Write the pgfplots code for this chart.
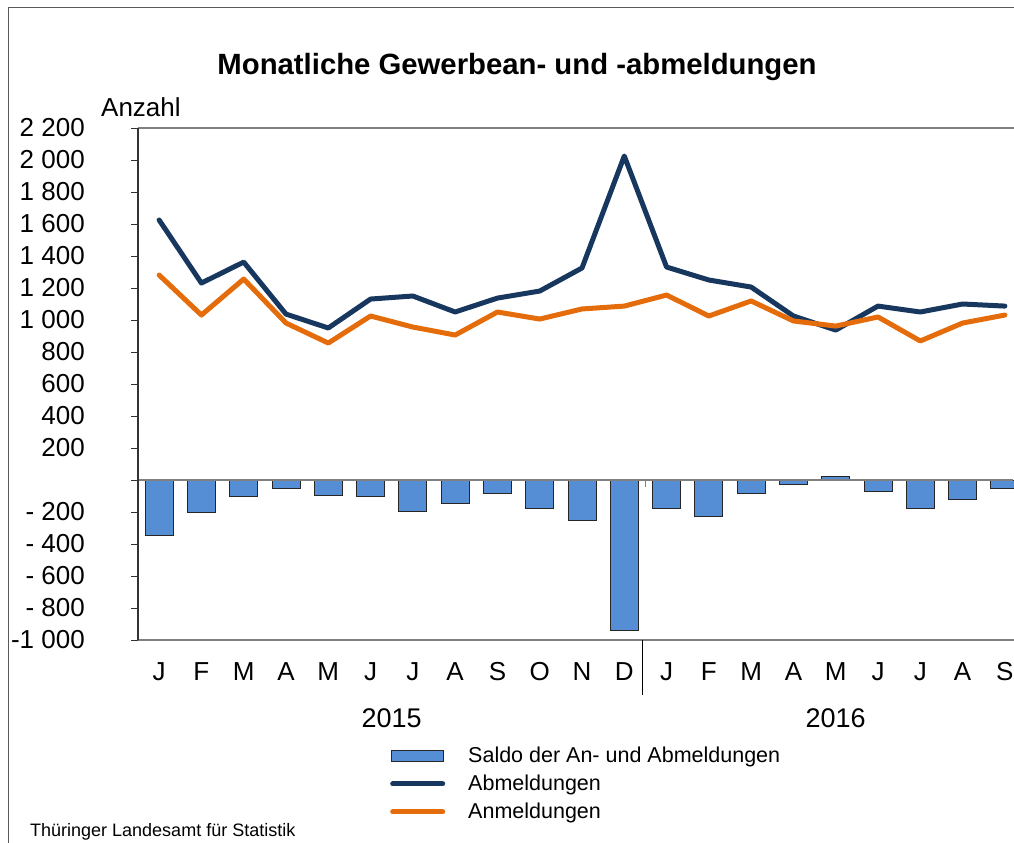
\documentclass[border=0pt]{standalone}
\usepackage{pgfplots}
\pgfplotsset{compat=1.18}
\usepackage{fontspec}
\setmainfont{Liberation Sans}
\definecolor{barblue}{RGB}{85,142,213}
\definecolor{navy}{RGB}{23,55,94}
\definecolor{orng}{RGB}{228,108,10}
\begin{document}
\begin{tikzpicture}
\useasboundingbox (0,0) rectangle (1014bp,-843bp);
\draw[black!65, line width=1bp] (8bp,-843bp) -- (8bp,-7bp) -- (1014bp,-7bp);
\node[font=\bfseries\fontsize{29.3bp}{34bp}\selectfont, anchor=base] at (517bp,-74bp) {Monatliche Gewerbean- und -abmeldungen};
\node[font=\fontsize{26bp}{30bp}\selectfont, anchor=base west, inner sep=0pt] at (101bp,-116bp) {Anzahl};
\node[font=\fontsize{18bp}{21bp}\selectfont, anchor=base west, inner sep=0pt] at (30bp,-836bp) {Thüringer Landesamt für Statistik};
\draw[gray, line width=1.2bp] (138bp,-128bp) -- (1014bp,-128bp);
\draw[gray, line width=1.2bp] (138bp,-640bp) -- (1014bp,-640bp);
\begin{axis}[
  at={(138bp,-640bp)}, anchor=south west,
  scale only axis, width=888bp, height=512bp,
  xmin=-0.5, xmax=20.5, ymin=-1000, ymax=2200,
  clip=false,
  axis lines*=left,
  axis line style={draw=none},
  xtick={0,...,20},
  xticklabels={J,F,M,A,M,J,J,A,S,O,N,D,J,F,M,A,M,J,J,A,S},
  xtick style={draw=none},
  xticklabel style={font=\fontsize{26bp}{30bp}\selectfont, inner sep=0pt, anchor=north, yshift=-15bp},
  ytick={-1000,-800,...,2200},
  yticklabels={-1 000,- 800,- 600,- 400,- 200,,200,400,600,800,1 000,1 200,1 400,1 600,1 800,2 000,2 200},
  ytick pos=left, tick align=outside, major tick length=7bp,
  ytick style={black!80, line width=1bp},
  yticklabel style={font=\fontsize{26bp}{30bp}\selectfont, inner sep=0pt, anchor=east, xshift=-46bp},
  legend style={at={(0.2838,-0.2105)}, anchor=north west, draw=none, fill=none,
    font=\fontsize{21.5bp}{25bp}\selectfont, inner sep=0pt, row sep=8bp,
    nodes={inner sep=0pt, text height=15bp, text depth=5bp}},
  legend cell align=left,
  /tikz/every odd column/.append style={column sep=23bp},
]
\addplot[ybar, bar width=28bp, fill=barblue, draw=black!85, line width=1bp,
  legend image code/.code={\draw[fill=barblue, draw=black!85, line width=1bp] (0bp,-4bp) rectangle (52bp,7bp);}]
  coordinates {(0,-344) (1,-200) (2,-106) (3,-56) (4,-94) (5,-106) (6,-194) (7,-144) (8,-87) (9,-175) (10,-256) (11,-938) (12,-175) (13,-225) (14,-87) (15,-31) (16,25) (17,-69) (18,-181) (19,-119) (20,-56)};
\addlegendentry{Saldo der An- und Abmeldungen}
\addplot[navy, line width=5bp, line join=round, line cap=round,
  legend image code/.code={\draw[navy, line width=5bp, line cap=round] (1bp,2bp) -- (51bp,2bp);}]
  coordinates {(0,1625) (1,1231) (2,1362) (3,1037) (4,950) (5,1131) (6,1150) (7,1050) (8,1137) (9,1181) (10,1325) (11,2025) (12,1331) (13,1250) (14,1206) (15,1025) (16,937) (17,1087) (18,1050) (19,1100) (20,1087)};
\addlegendentry{Abmeldungen}
\addplot[orng, line width=5bp, line join=round, line cap=round,
  legend image code/.code={\draw[orng, line width=5bp, line cap=round] (1bp,2bp) -- (51bp,2bp);}]
  coordinates {(0,1281) (1,1031) (2,1256) (3,981) (4,856) (5,1025) (6,956) (7,906) (8,1050) (9,1006) (10,1069) (11,1087) (12,1156) (13,1025) (14,1119) (15,994) (16,962) (17,1019) (18,869) (19,981) (20,1031)};
\addlegendentry{Anmeldungen}
\draw[gray, line width=1.5bp] (axis cs:-0.5,0) -- (axis cs:20.2,0);
\draw[gray, line width=1bp] (axis cs:11.5,0) -- ([yshift=-7bp]axis cs:11.5,0);
\draw[black!80, line width=1.2bp] (axis cs:-0.5,-1000) -- (axis cs:-0.5,2200);
\draw[black, line width=1.2bp] (axis cs:11.43,-1000) -- ([yshift=-55bp]axis cs:11.43,-1000);
\node[font=\fontsize{27bp}{31bp}\selectfont, anchor=base] at ([yshift=-87bp]axis cs:5.5,-1000) {2015};
\node[font=\fontsize{27bp}{31bp}\selectfont, anchor=base] at ([yshift=-87bp]axis cs:16,-1000) {2016};
\end{axis}
\end{tikzpicture}
\end{document}
